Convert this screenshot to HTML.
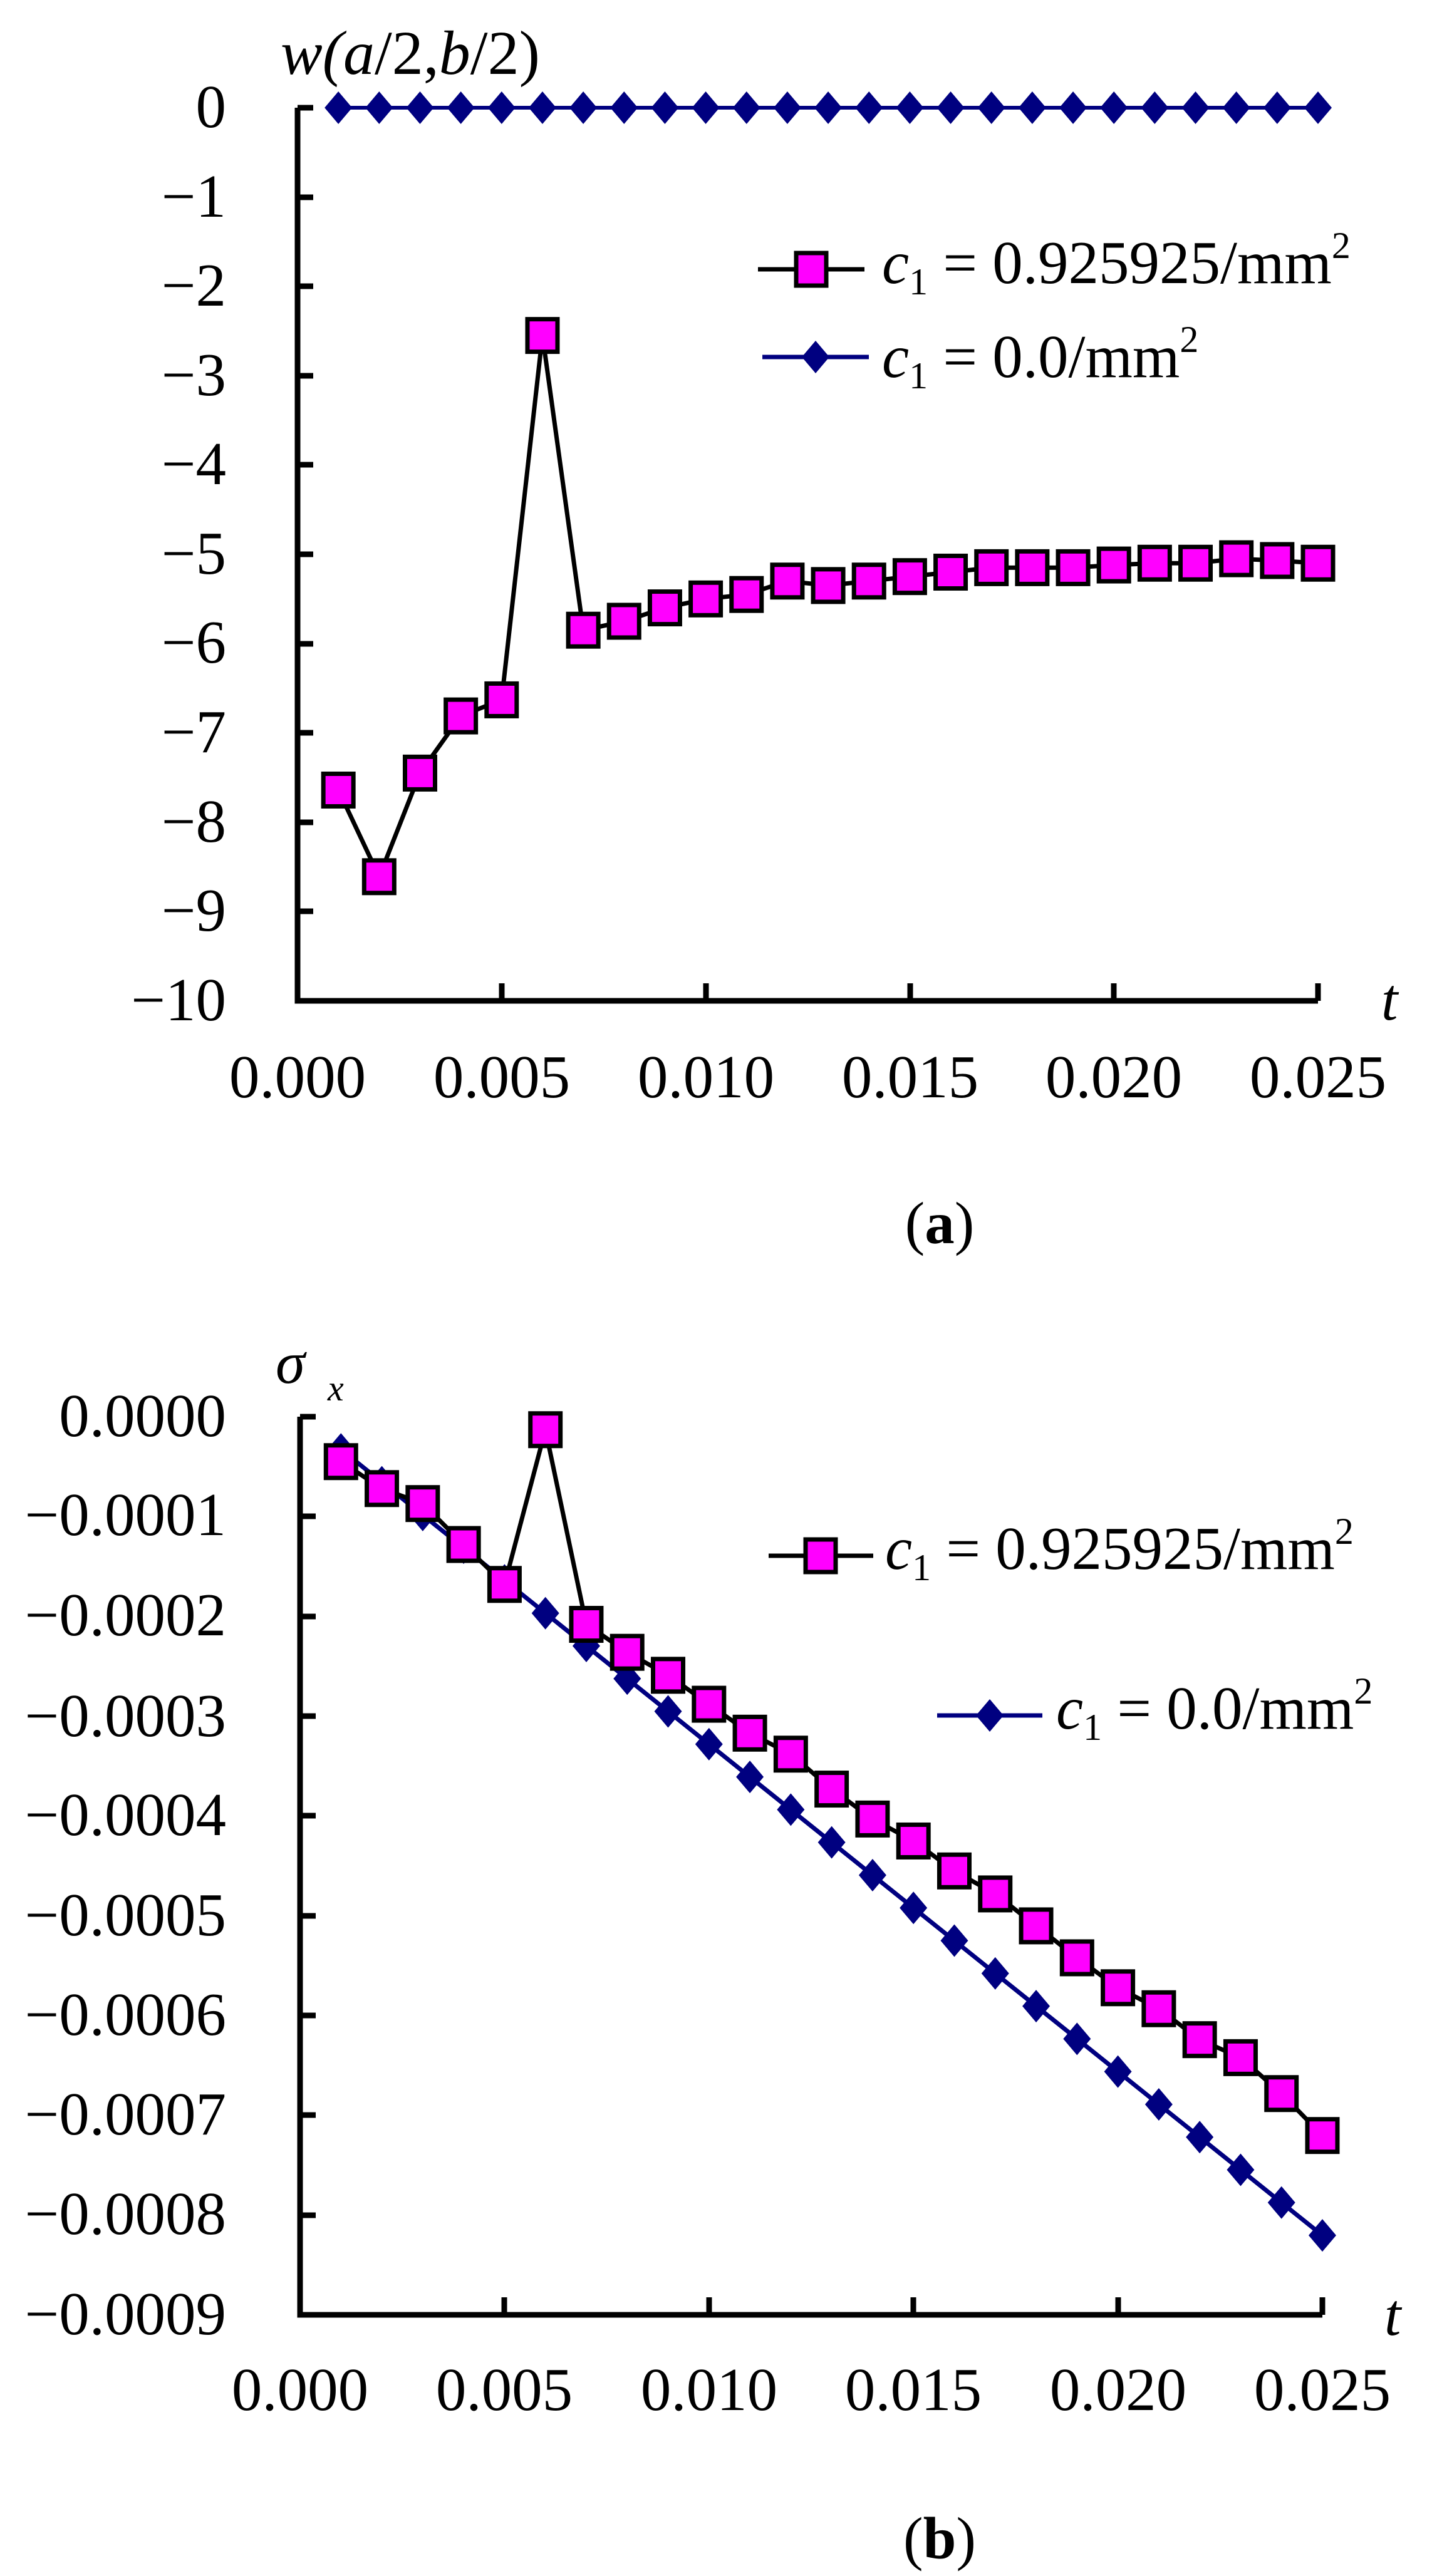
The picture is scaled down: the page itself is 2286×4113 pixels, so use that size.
<!DOCTYPE html>
<html><head><meta charset="utf-8"><style>
html,body{margin:0;padding:0;background:#fff;}
svg{display:block;}
text{font-family:"Liberation Serif","Times New Roman",serif;fill:#000;}
</style></head><body>
<svg width="2286" height="4113" viewBox="0 0 2286 4113" xmlns="http://www.w3.org/2000/svg">
<defs>
<rect id="sq" x="-24" y="-26" width="48" height="52" fill="#ff00ff" stroke="#000" stroke-width="7"/>
<path id="dm" d="M0,-26 L22,0 L0,26 L-22,0 Z" fill="#000080"/>
</defs>

<!-- ============ (a) ============ -->
<text x="448" y="118" font-size="100" font-style="italic">w(a<tspan font-style="normal">/</tspan><tspan font-style="normal">2</tspan><tspan font-style="normal">,</tspan>b<tspan font-style="normal">/</tspan><tspan font-style="normal">2</tspan><tspan font-style="normal">)</tspan></text>
<g font-size="97" text-anchor="end">
<text x="361" y="203">0</text>
<text x="361" y="346">−1</text>
<text x="361" y="488">−2</text>
<text x="361" y="631">−3</text>
<text x="361" y="773">−4</text>
<text x="361" y="916">−5</text>
<text x="361" y="1058">−6</text>
<text x="361" y="1201">−7</text>
<text x="361" y="1344">−8</text>
<text x="361" y="1486">−9</text>
<text x="361" y="1629">−10</text>
</g>
<g stroke="#000" stroke-width="9" fill="none">
<path d="M475,172 L475,1598 L2104,1598"/>
<path d="M475,172h25M475,315h25M475,457h25M475,600h25M475,742h25M475,885h25M475,1028h25M475,1170h25M475,1313h25M475,1455h25"/>
<path d="M801,1598v-28M1127,1598v-28M1453,1598v-28M1778,1598v-28M2104,1598v-28"/>
</g>
<g font-size="97" text-anchor="middle">
<text x="475" y="1752">0.000</text>
<text x="801" y="1752">0.005</text>
<text x="1127" y="1752">0.010</text>
<text x="1453" y="1752">0.015</text>
<text x="1778" y="1752">0.020</text>
<text x="2104" y="1752">0.025</text>
</g>
<text x="2205" y="1628" font-size="95" font-style="italic">t</text>
<text x="1500" y="1985" font-size="95" text-anchor="middle">(<tspan font-weight="bold">a</tspan>)</text>

<g id="aplot"></g>

<!-- legend a -->
<line x1="1210" y1="430" x2="1380" y2="430" stroke="#000" stroke-width="7"/>
<use href="#sq" x="1295" y="430"/>
<text x="1408" y="452" font-size="97"><tspan font-style="italic">c</tspan><tspan font-size="60" dy="18">1</tspan><tspan dy="-18"> = 0.925925/mm</tspan><tspan font-size="60" dy="-40">2</tspan></text>
<line x1="1217" y1="570" x2="1387" y2="570" stroke="#000080" stroke-width="7"/>
<use href="#dm" x="1302" y="570"/>
<text x="1408" y="602" font-size="97"><tspan font-style="italic">c</tspan><tspan font-size="60" dy="18">1</tspan><tspan dy="-18"> = 0.0/mm</tspan><tspan font-size="60" dy="-40">2</tspan></text>

<!-- ============ (b) ============ -->
<text x="440" y="2208" font-size="95" font-style="italic">σ</text>
<text x="523" y="2236" font-size="58" font-style="italic">x</text>
<g font-size="97" text-anchor="end">
<text x="361" y="2293">0.0000</text>
<text x="361" y="2451">−0.0001</text>
<text x="361" y="2611">−0.0002</text>
<text x="361" y="2772">−0.0003</text>
<text x="361" y="2930">−0.0004</text>
<text x="361" y="3090">−0.0005</text>
<text x="361" y="3249">−0.0006</text>
<text x="361" y="3408">−0.0007</text>
<text x="361" y="3567">−0.0008</text>
<text x="361" y="3727">−0.0009</text>
</g>
<g stroke="#000" stroke-width="9" fill="none">
<path d="M479,2262 L479,3696 L2111,3696"/>
<path d="M479,2262h25M479,2421h25M479,2581h25M479,2740h25M479,2899h25M479,3059h25M479,3218h25M479,3377h25M479,3537h25"/>
<path d="M805,3696v-28M1132,3696v-28M1458,3696v-28M1785,3696v-28M2111,3696v-28"/>
</g>
<g font-size="97" text-anchor="middle">
<text x="479" y="3848">0.000</text>
<text x="805" y="3848">0.005</text>
<text x="1132" y="3848">0.010</text>
<text x="1458" y="3848">0.015</text>
<text x="1785" y="3848">0.020</text>
<text x="2111" y="3848">0.025</text>
</g>
<text x="2210" y="3728" font-size="95" font-style="italic">t</text>
<text x="1500" y="4085" font-size="95" text-anchor="middle">(<tspan font-weight="bold">b</tspan>)</text>

<g id="bplot"></g>

<!-- legend b -->
<line x1="1227" y1="2484" x2="1394" y2="2484" stroke="#000" stroke-width="7"/>
<use href="#sq" x="1310" y="2484"/>
<text x="1413" y="2505" font-size="97"><tspan font-style="italic">c</tspan><tspan font-size="60" dy="18">1</tspan><tspan dy="-18"> = 0.925925/mm</tspan><tspan font-size="60" dy="-40">2</tspan></text>
<line x1="1496" y1="2739" x2="1664" y2="2739" stroke="#000080" stroke-width="7"/>
<use href="#dm" x="1580" y="2739"/>
<text x="1686" y="2760" font-size="97"><tspan font-style="italic">c</tspan><tspan font-size="60" dy="18">1</tspan><tspan dy="-18"> = 0.0/mm</tspan><tspan font-size="60" dy="-40">2</tspan></text>
</svg>
<script>
(function(){
var NS="http://www.w3.org/2000/svg";
function el(p,n,a){var e=document.createElementNS(NS,n);for(var k in a)e.setAttribute(k,a[k]);p.appendChild(e);return e;}
function use(p,id,x,y){var e=document.createElementNS(NS,"use");e.setAttribute("href","#"+id);e.setAttribute("x",x);e.setAttribute("y",y);p.appendChild(e);}
var ga=document.getElementById("aplot");
var wa=[-7.64,-8.61,-7.45,-6.81,-6.63,-2.55,-5.85,-5.75,-5.6,-5.5,-5.45,-5.3,-5.35,-5.3,-5.25,-5.2,-5.15,-5.15,-5.15,-5.12,-5.1,-5.1,-5.05,-5.07,-5.1];
function xa(k){return 475+k*65.16;}
function ya(v){return 172-v*142.6;}
var pb="",pp="";
for(var k=1;k<=25;k++){pb+=(k==1?"M":"L")+xa(k)+","+ya(0);pp+=(k==1?"M":"L")+xa(k)+","+ya(wa[k-1]);}
el(ga,"path",{d:pb,stroke:"#000080","stroke-width":6,fill:"none"});
for(k=1;k<=25;k++)use(ga,"dm",xa(k),ya(0));
el(ga,"path",{d:pp,stroke:"#000","stroke-width":7,fill:"none"});
for(k=1;k<=25;k++)use(ga,"sq",xa(k),ya(wa[k-1]));
var gb=document.getElementById("bplot");
var sp=[0.45,0.72,0.87,1.28,1.68,0.13,2.08,2.36,2.59,2.88,3.17,3.38,3.73,4.03,4.25,4.55,4.78,5.1,5.42,5.72,5.93,6.24,6.42,6.78,7.2];
function xb(k){return 479+k*65.28;}
function yb(v){return 2262+v*159.4;}
pb="";pp="";
for(k=1;k<=25;k++){pb+=(k==1?"M":"L")+xb(k)+","+yb(0.328*k);pp+=(k==1?"M":"L")+xb(k)+","+yb(sp[k-1]);}
el(gb,"path",{d:pb,stroke:"#000080","stroke-width":7,fill:"none"});
for(k=1;k<=25;k++)use(gb,"dm",xb(k),yb(0.328*k));
el(gb,"path",{d:pp,stroke:"#000","stroke-width":7,fill:"none"});
for(k=1;k<=25;k++)use(gb,"sq",xb(k),yb(sp[k-1]));
})();
</script>
</body></html>
